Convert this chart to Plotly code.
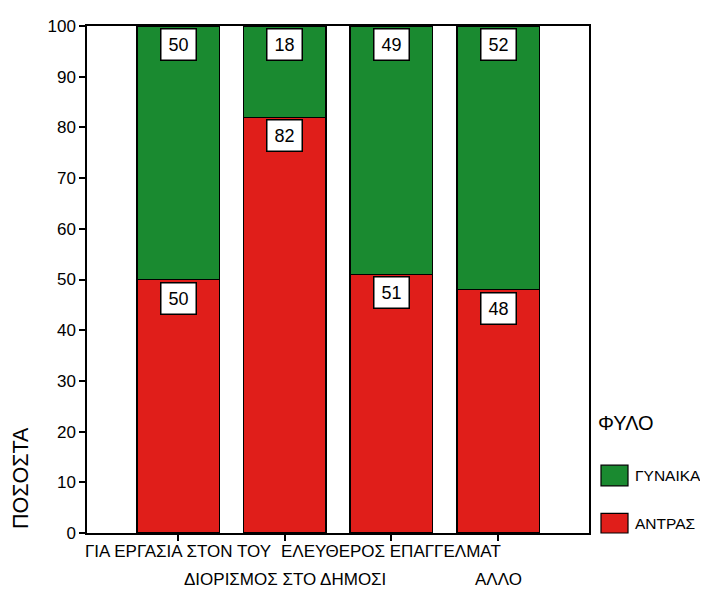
import plotly.graph_objects as go

categories = ["ΓΙΑ ΕΡΓΑΣΙΑ ΣΤΟΝ ΤΟΥ", "ΔΙΟΡΙΣΜΟΣ ΣΤΟ ΔΗΜΟΣΙ", "ΕΛΕΥΘΕΡΟΣ ΕΠΑΓΓΕΛΜΑΤ", "ΑΛΛΟ"]
men = [50, 82, 51, 48]      # ΑΝΤΡΑΣ
women = [50, 18, 49, 52]    # ΓΥΝΑΙΚΑ
series_names = ["ΑΝΤΡΑΣ", "ΓΥΝΑΙΚΑ"]
legend_title = "ΦΥΛΟ"
y_title = "ΠΟΣΟΣΤΑ"
y_ticks = [0, 10, 20, 30, 40, 50, 60, 70, 80, 90, 100]

RED = "#e01e1a"
GREEN = "#1a8a30"
FONT = "Liberation Sans, Arial, sans-serif"

fig = go.Figure()
fig.add_trace(go.Bar(x=categories, y=men, name=series_names[0], width=0.773,
                     marker=dict(color=RED, line=dict(color="black", width=1.5))))
fig.add_trace(go.Bar(x=categories, y=women, name=series_names[1], width=0.773,
                     marker=dict(color=GREEN, line=dict(color="black", width=1.5))))

annotations = []
# value labels (white boxes)
for i, c in enumerate(categories):
    for val, top in ((men[i], men[i]), (women[i], men[i] + women[i])):
        annotations.append(dict(
            x=c, y=top, xref="x", yref="y", text=str(val), showarrow=False,
            yanchor="top", yshift=-2, font=dict(family=FONT, size=18, color="black"),
            bgcolor="white", bordercolor="black", borderwidth=1.5, borderpad=2,
            width=30, height=26))
# category labels staggered in two rows
for i, c in enumerate(categories):
    annotations.append(dict(
        x=c, y=0, xref="x", yref="paper", text=c, showarrow=False,
        yanchor="middle", yshift=-18 if i % 2 == 0 else -46,
        font=dict(family=FONT, size=17, color="black")))
# y title
annotations.append(dict(x=0, y=0, xref="paper", yref="paper", text=y_title, showarrow=False,
                        textangle=-90, xanchor="center", yanchor="middle", xshift=-66, yshift=55,
                        font=dict(family=FONT, size=21.5, color="black")))
# custom legend
annotations.append(dict(x=1.0139, y=0.217, xref="paper", yref="paper", text=legend_title,
                        showarrow=False, xanchor="left", yanchor="middle",
                        font=dict(family=FONT, size=20, color="black")))
legend_items = [(series_names[1], GREEN, 0.0930, 0.1337), (series_names[0], RED, 0.0, 0.0388)]
shapes = []
for name, col, y0, y1 in legend_items:
    shapes.append(dict(type="rect", xref="paper", yref="paper", x0=1.0239, x1=1.0777,
                       y0=y0, y1=y1, fillcolor=col, line=dict(color="black", width=1.2)))
    annotations.append(dict(x=1.0876, y=(y0 + y1) / 2, xref="paper", yref="paper", text=name,
                            showarrow=False, xanchor="left", yanchor="middle",
                            font=dict(family=FONT, size=15.5, color="black")))

fig.update_layout(
    barmode="stack", showlegend=False,
    width=700, height=581,
    margin=dict(l=79, r=119, t=9, b=56),
    paper_bgcolor="white", plot_bgcolor="white",
    font=dict(family=FONT, color="black"),
    annotations=annotations, shapes=shapes,
    xaxis=dict(type="category", range=[-0.853, 3.852], showticklabels=False,
               ticks="outside", ticklen=6, tickwidth=1.5, tickcolor="black",
               showline=True, linecolor="black", linewidth=1.5, mirror=True,
               showgrid=False, zeroline=False),
    yaxis=dict(range=[0, 100], tickvals=y_ticks, ticks="outside", ticklen=6,
               tickwidth=1.5, tickcolor="black", showline=True, linecolor="black",
               linewidth=1.5, mirror=True, showgrid=False, zeroline=False,
               tickfont=dict(family=FONT, size=17, color="black")),
)

fig.write_html("out.html")
